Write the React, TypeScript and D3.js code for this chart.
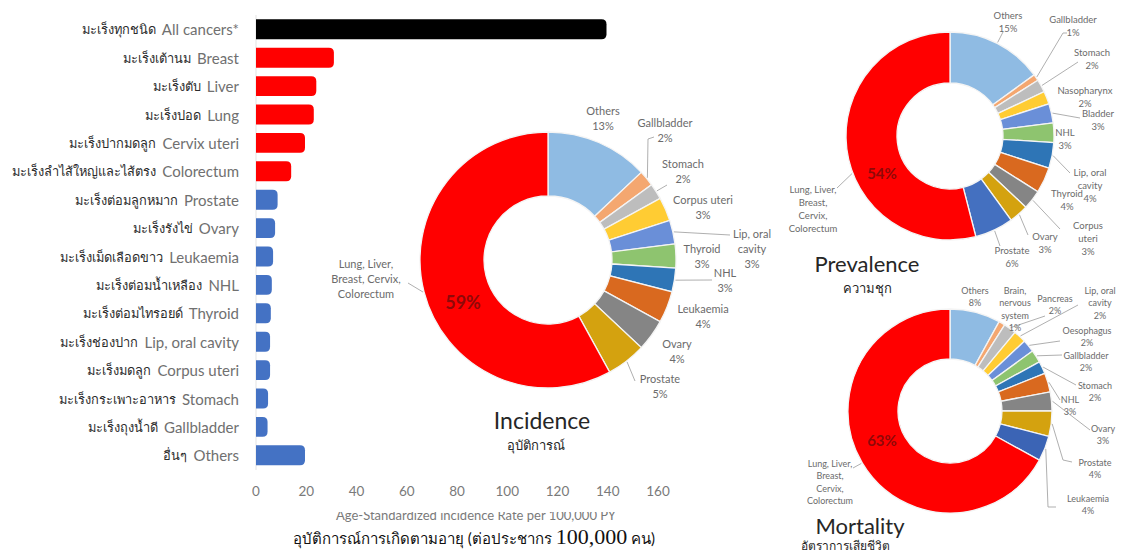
import React from 'react';
import * as d3 from 'd3';

// ---------- Bar chart data ----------
const barThai = [
  'มะเร็งทุกชนิด', 'มะเร็งเต้านม', 'มะเร็งตับ', 'มะเร็งปอด', 'มะเร็งปากมดลูก',
  'มะเร็งลำไส้ใหญ่และไส้ตรง', 'มะเร็งต่อมลูกหมาก', 'มะเร็งรังไข่', 'มะเร็งเม็ดเลือดขาว',
  'มะเร็งต่อมน้ำเหลือง', 'มะเร็งต่อมไทรอยด์', 'มะเร็งช่องปาก', 'มะเร็งมดลูก',
  'มะเร็งกระเพาะอาหาร', 'มะเร็งถุงน้ำดี', 'อื่นๆ',
];
const barEnglish = [
  'All cancers*', 'Breast', 'Liver', 'Lung', 'Cervix uteri', 'Colorectum', 'Prostate',
  'Ovary', 'Leukaemia', 'NHL', 'Thyroid', 'Lip, oral cavity', 'Corpus uteri', 'Stomach',
  'Gallbladder', 'Others',
];
const barRates = [139.5, 31, 24, 23, 19.5, 14, 8.6, 7.6, 6.8, 6.3, 5.9, 5.6, 5.6, 4.8, 4.6, 19.5];
const barGroups = ['all', 'top', 'top', 'top', 'top', 'top', 'other', 'other', 'other', 'other',
  'other', 'other', 'other', 'other', 'other', 'other'];
const xTicks = [0, 20, 40, 60, 80, 100, 120, 140, 160];

// ---------- Donut data ----------
const incidenceSites = ['Others', 'Gallbladder', 'Stomach', 'Corpus uteri', 'Lip, oral cavity',
  'Thyroid', 'NHL', 'Leukaemia', 'Ovary', 'Prostate', 'Lung, Liver, Breast, Cervix, Colorectum'];
const incidenceShares = [13, 2, 2, 3, 3, 3, 3, 4, 4, 5, 58];
const incidenceLabels = ['13%', '2%', '2%', '3%', '3%', '3%', '3%', '4%', '4%', '5%', '59%'];

const prevalenceSites = ['Others', 'Gallbladder', 'Stomach', 'Nasopharynx', 'Bladder', 'NHL',
  'Lip, oral cavity', 'Thyroid', 'Corpus uteri', 'Ovary', 'Prostate',
  'Lung, Liver, Breast, Cervix, Colorectum'];
const prevalenceShares = [15, 1, 2, 2, 3, 3, 4, 4, 3, 3, 6, 54];
const prevalenceLabels = ['15%', '1%', '2%', '2%', '3%', '3%', '4%', '4%', '3%', '3%', '6%', '54%'];

const mortalitySites = ['Others', 'Brain, nervous system', 'Pancreas', 'Lip, oral cavity',
  'Oesophagus', 'Gallbladder', 'Stomach', 'NHL', 'Ovary', 'Prostate', 'Leukaemia',
  'Lung, Liver, Breast, Cervix, Colorectum'];
const mortalityShares = [8, 1, 2, 2, 2, 2, 2, 3, 3, 4, 4, 67];
const mortalityLabels = ['8%', '1%', '2%', '2%', '2%', '2%', '2%', '3%', '3%', '4%', '4%', '63%'];

// ---------- Styles ----------
const RED = '#ff0000';
const incidenceColors = ['#8fbbe3', '#f4a770', '#bdbdbd', '#ffcc33', '#6a8fd8', '#8ec46f',
  '#2e75b6', '#d9691f', '#858585', '#d4a20f', RED];
const prevalenceColors = ['#8fbbe3', '#f4a770', '#bdbdbd', '#ffcc33', '#6a8fd8', '#8ec46f',
  '#2e75b6', '#d9691f', '#858585', '#d4a20f', '#4470c0', RED];
const mortalityColors = ['#8fbbe3', '#f4a770', '#bdbdbd', '#ffcc33', '#6a8fd8', '#8ec46f',
  '#2e75b6', '#d9691f', '#858585', '#d4a20f', '#3b64b5', RED];
const barColor: Record<string, string> = { all: '#000000', top: RED, other: '#4472c4' };

const FONT = "Lato, 'Noto Sans', sans-serif";

type LabelLayout = { lines: string[]; at: [number, number]; leader?: [number, number][]; startDeg?: number };

const incidenceLayout: LabelLayout[] = [
  { lines: ['Others'], at: [55, -150] },
  { lines: ['Gallbladder'], at: [117, -138], leader: [[100, -121], [106, -123]] },
  { lines: ['Stomach'], at: [135, -97], leader: [[119, -75]] },
  { lines: ['Corpus uteri'], at: [155, -61] },
  { lines: ['Lip, oral', 'cavity'], at: [204, -27], leader: [[182, -25]] },
  { lines: ['Thyroid'], at: [154, -12] },
  { lines: ['NHL'], at: [177, 12], leader: [[164, 20]] },
  { lines: ['Leukaemia'], at: [155, 48] },
  { lines: ['Ovary'], at: [129, 83] },
  { lines: ['Prostate'], at: [112, 118], leader: [[87, 121]] },
  { lines: ['Lung, Liver,', 'Breast, Cervix,', 'Colorectum'], at: [-182, 3], leader: [[-140, 23]] },
];

const prevalenceLayout: LabelLayout[] = [
  { lines: ['Others'], at: [58, -121], leader: [[53, -104]] },
  { lines: ['Gallbladder'], at: [123, -117], leader: [[113, -103], [117, -103]] },
  { lines: ['Stomach'], at: [142, -84], leader: [[128, -74]] },
  { lines: ['Nasopharynx'], at: [135, -46] },
  { lines: ['Bladder'], at: [148, -23], leader: [[130, -18]] },
  { lines: ['NHL'], at: [115, -4] },
  { lines: ['Lip, oral', 'cavity'], at: [140, 36], leader: [[120, 37]] },
  { lines: ['Thyroid'], at: [117, 57] },
  { lines: ['Corpus', 'uteri'], at: [138, 89], leader: [[110, 93]] },
  { lines: ['Ovary'], at: [95, 100], leader: [[78, 99]] },
  { lines: ['Prostate'], at: [62, 114], leader: [[50, 110]] },
  { lines: ['Lung, Liver,', 'Breast,', 'Cervix,', 'Colorectum'], at: [-137, 53], leader: [[-113, 52]], startDeg: 249 },
];

const mortalityLayout: LabelLayout[] = [
  { lines: ['Others'], at: [25, -121] },
  { lines: ['Brain,', 'nervous', 'system'], at: [65, -121] },
  { lines: ['Pancreas'], at: [105, -113], leader: [[95, -95]] },
  { lines: ['Lip, oral', 'cavity'], at: [150, -121], leader: [[128, -106]] },
  { lines: ['Oesophagus'], at: [137, -81], leader: [[110, -70]] },
  { lines: ['Gallbladder'], at: [136, -56], leader: [[112, -56]] },
  { lines: ['Stomach'], at: [145, -26], leader: [[126, -26]] },
  { lines: ['NHL'], at: [120, -12], leader: [[110, -11]] },
  { lines: ['Ovary'], at: [153, 17], leader: [[140, 19]] },
  { lines: ['Prostate'], at: [145, 51], leader: [[113, 49], [122, 51]] },
  { lines: ['Leukaemia'], at: [138, 87], leader: [[98, 96], [106, 96]] },
  { lines: ['Lung, Liver,', 'Breast,', 'Cervix,', 'Colorectum'], at: [-120, 52], leader: [[-97, 57]] },
];

function barPath(x0: number, y0: number, x1: number, h: number, r: number) {
  const rr = Math.min(r, x1 - x0, h / 2);
  return `M${x0},${y0}H${x1 - rr}Q${x1},${y0} ${x1},${y0 + rr}V${y0 + h - rr}Q${x1},${y0 + h} ${x1 - rr},${y0 + h}H${x0}Z`;
}

type DonutProps = {
  cx: number; cy: number; ro: number; ri: number;
  shares: number[]; labels: string[]; colors: string[]; layout: LabelLayout[];
  fontSize: number; lineHeight: number;
  pctAt: [number, number]; pctSize: number;
  sites: string[];
};

function Donut(p: DonutProps) {
  const pie = d3.pie<number>().sort(null).value((d) => d);
  const arcs = pie(p.shares);
  const arc = d3.arc<d3.PieArcDatum<number>>().innerRadius(p.ri).outerRadius(p.ro);
  const n = arcs.length;
  return (
    <g transform={`translate(${p.cx},${p.cy})`}>
      {arcs.map((a, i) => (
        <path key={i} d={arc(a) || ''} fill={p.colors[i]} stroke="#f4f4f4" strokeWidth={1.3}>
          <title>{p.sites[i]}</title>
        </path>
      ))}
      {arcs.map((a, i) => {
        const L = p.layout[i];
        if (!L.leader) return null;
        const ang = L.startDeg !== undefined ? (L.startDeg * Math.PI) / 180 : (a.startAngle + a.endAngle) / 2;
        const r0 = p.ro + 1;
        const pts: [number, number][] = [[r0 * Math.sin(ang), -r0 * Math.cos(ang)], ...L.leader];
        return <polyline key={'l' + i} points={pts.map((q) => q.join(',')).join(' ')} fill="none" stroke="#a6a6a6" strokeWidth={0.9} />;
      })}
      {arcs.map((a, i) => {
        const L = p.layout[i];
        const all = i === n - 1 ? L.lines : [...L.lines, p.labels[i]];
        return (
          <text key={'t' + i} x={L.at[0]} y={L.at[1]} textAnchor="middle" fontFamily={FONT} fontSize={p.fontSize} fill="#6b6b6b">
            {all.map((ln, k) => (
              <tspan key={k} x={L.at[0]} y={L.at[1] + k * p.lineHeight} dominantBaseline="central">{ln}</tspan>
            ))}
          </text>
        );
      })}
      <text x={p.pctAt[0]} y={p.pctAt[1]} textAnchor="middle" dominantBaseline="central" fontFamily={FONT}
        fontWeight="bold" fontSize={p.pctSize} fill="#7a0a0a" fillOpacity={0.85}>{p.labels[n - 1]}</text>
    </g>
  );
}

export default function App() {
  const x = d3.scaleLinear().domain([0, 160]).range([256, 658]);
  const y = d3.scaleBand<string>().domain(barEnglish).range([15.1, 469.5]).paddingInner(0.3).paddingOuter(0.15);
  const bh = y.bandwidth();

  return (
    <svg width={1122} height={553} viewBox="0 0 1122 553"
      style={{ position: 'absolute', left: 0, top: 0, display: 'block', background: '#fff' }}>
      <defs>
        <clipPath id="titleClip">
          <rect x={200} y={512} width={500} height={20} />
        </clipPath>
      </defs>

      {/* Bar chart */}
      <line x1={x(0)} x2={x(0)} y1={15} y2={470} stroke="#e3e3e3" strokeWidth={1} />
      {barRates.map((v, i) => (
        <path key={i} d={barPath(x(0), y(barEnglish[i])!, x(v), bh, 5)} fill={barColor[barGroups[i]]} />
      ))}
      {barEnglish.map((en, i) => (
        <text key={'bl' + i} x={239} y={y(en)! + bh / 2} textAnchor="end" dominantBaseline="central"
          fontFamily={FONT} fontSize={15}>
          <tspan fill="#2b2b2b" fontSize={12.8}>{barThai[i]}</tspan>
          <tspan fill="#707070" dx={6}>{en}</tspan>
        </text>
      ))}
      {xTicks.map((t) => (
        <text key={'xt' + t} x={x(t)} y={491} textAnchor="middle" dominantBaseline="central"
          fontFamily={FONT} fontSize={13.5} fill="#7a7a7a">{t}</text>
      ))}
      <text x={476} y={520} textAnchor="middle" fontFamily={FONT} fontSize={13} fill="#7a7a7a"
        clipPath="url(#titleClip)">Age-Standardized incidence Rate per 100,000 PY</text>
      <text x={474} y={544} textAnchor="middle" fontFamily={FONT} fontSize={15} fill="#111">
        <tspan>อุบัติการณ์การเกิดตามอายุ (ต่อประชากร </tspan>
        <tspan fontFamily="'Liberation Serif', 'Times New Roman', serif" fontSize={22}>100,000</tspan>
        <tspan> คน)</tspan>
      </text>

      {/* Incidence */}
      <Donut cx={548} cy={260} ro={128} ri={64} shares={incidenceShares} labels={incidenceLabels}
        colors={incidenceColors} layout={incidenceLayout} fontSize={11} lineHeight={15}
        pctAt={[-85, 42]} pctSize={18} sites={incidenceSites} />
      <text x={542} y={420} textAnchor="middle" dominantBaseline="central" fontFamily={FONT} fontSize={23} fill="#262626">Incidence</text>
      <text x={536} y={445} textAnchor="middle" dominantBaseline="central" fontFamily={FONT} fontSize={13} fill="#262626">อุบัติการณ์</text>

      {/* Prevalence */}
      <Donut cx={950} cy={136} ro={104} ri={53} shares={prevalenceShares} labels={prevalenceLabels}
        colors={prevalenceColors} layout={prevalenceLayout} fontSize={9.5} lineHeight={13}
        pctAt={[-68, 37]} pctSize={15} sites={prevalenceSites} />
      <text x={867} y={263} textAnchor="middle" dominantBaseline="central" fontFamily={FONT} fontSize={22} fill="#262626">Prevalence</text>
      <text x={867} y={288} textAnchor="middle" dominantBaseline="central" fontFamily={FONT} fontSize={13} fill="#262626">ความชุก</text>

      {/* Mortality */}
      <Donut cx={950} cy={411} ro={102} ri={52} shares={mortalityShares} labels={mortalityLabels}
        colors={mortalityColors} layout={mortalityLayout} fontSize={9} lineHeight={12.5}
        pctAt={[-68, 29]} pctSize={15} sites={mortalitySites} />
      <text x={860} y={525} textAnchor="middle" dominantBaseline="central" fontFamily={FONT} fontSize={22} fill="#262626">Mortality</text>
      <text x={845} y={545} textAnchor="middle" dominantBaseline="central" fontFamily={FONT} fontSize={12} fill="#262626">อัตราการเสียชีวิต</text>
    </svg>
  );
}
